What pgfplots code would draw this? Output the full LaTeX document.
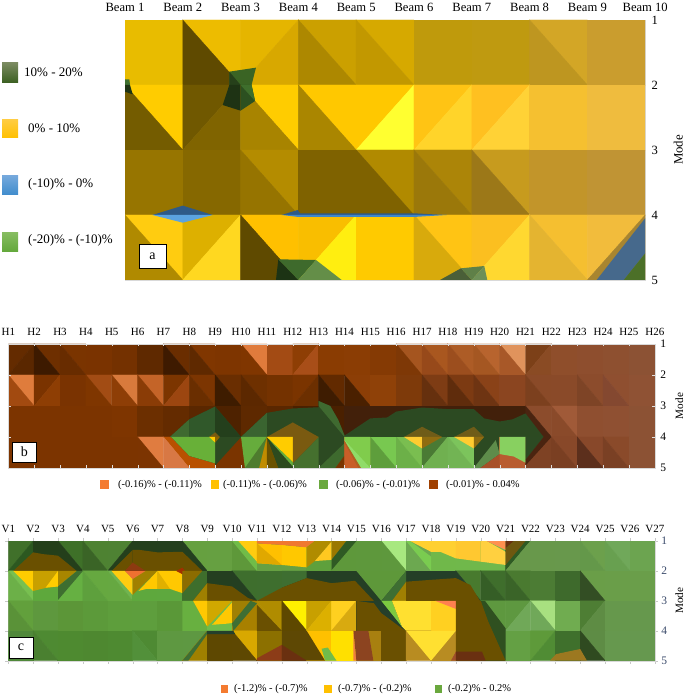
\documentclass[border=0pt]{standalone}
\usepackage{fontspec}
\setmainfont{Liberation Serif}
\usepackage{pgfplots}
\pgfplotsset{compat=1.18}
\newcommand\Cf[3]{\definecolor{c#3}{HTML}{#3}\edef\tmp{\noexpand\addplot[fill=c#3,draw=c#3,line width=.4pt,forget plot] coordinates {(#1,#2)(\the\numexpr#1+1\relax,#2)(\the\numexpr#1+1\relax,\the\numexpr#2+1\relax)(#1,\the\numexpr#2+1\relax)} --cycle;}\tmp}
% D: diagonal top-left to bottom-right; upper right colour, lower left colour
\newcommand\Cd[4]{\definecolor{c#3}{HTML}{#3}\definecolor{c#4}{HTML}{#4}\edef\tmp{\noexpand\addplot[fill=c#3,draw=c#3,line width=.4pt,forget plot] coordinates {(#1,#2)(\the\numexpr#1+1\relax,#2)(\the\numexpr#1+1\relax,\the\numexpr#2+1\relax)} --cycle;\noexpand\addplot[fill=c#4,draw=c#4,line width=.4pt,forget plot] coordinates {(#1,#2)(\the\numexpr#1+1\relax,\the\numexpr#2+1\relax)(#1,\the\numexpr#2+1\relax)} --cycle;}\tmp}
% U: diagonal bottom-left to top-right; upper left colour, lower right colour
\newcommand\Cu[4]{\definecolor{c#3}{HTML}{#3}\definecolor{c#4}{HTML}{#4}\edef\tmp{\noexpand\addplot[fill=c#3,draw=c#3,line width=.4pt,forget plot] coordinates {(#1,#2)(\the\numexpr#1+1\relax,#2)(#1,\the\numexpr#2+1\relax)} --cycle;\noexpand\addplot[fill=c#4,draw=c#4,line width=.4pt,forget plot] coordinates {(\the\numexpr#1+1\relax,#2)(\the\numexpr#1+1\relax,\the\numexpr#2+1\relax)(#1,\the\numexpr#2+1\relax)} --cycle;}\tmp}
\newcommand\Cp[2]{\definecolor{c#1}{HTML}{#1}\addplot[fill=c#1,draw=none,forget plot] coordinates {#2} --cycle;}
\definecolor{D9}{HTML}{D9D9D9}
\definecolor{E0}{HTML}{E0E0E0}
\definecolor{C8}{HTML}{C8C8C8}
\definecolor{navy}{HTML}{3A4A6A}
\pgfplotsset{surf/.style={scale only axis,anchor=south west,y dir=reverse,ymin=1,ymax=5,ytick={1,2,3,4,5},yticklabels={1,2,3,4,5},xtick={1,...,#1},xmin=1,xmax=#1,
 xticklabel pos=upper,yticklabel pos=right,axis line style={draw=D9},tick align=outside,major tick length=3pt,
 every axis y label/.style={at={(axis description cs:1,0.5)},anchor=center,rotate=90}}}
\begin{document}
\begin{tikzpicture}[x=1pt,y=1pt]
\useasboundingbox (0,0) rectangle (685,696);
% ---------- panel a
\begin{axis}[surf=10,at={(125pt,416pt)},width=520.2pt,height=260pt,
 xticklabels={Beam 1,Beam 2,Beam 3,Beam 4,Beam 5,Beam 6,Beam 7,Beam 8,Beam 9,Beam 10},
 tick style={draw=none},major tick length=0pt,
 xticklabel style={font=\fontsize{12.6}{14}\selectfont,yshift=5pt},yticklabel style={font=\fontsize{12.6}{14}\selectfont,xshift=3pt},
 ylabel={\fontsize{12.8}{14}\selectfont Mode},y label style={yshift=-33pt}]
\Cf{1}{1}{E8BC00}\Cd{2}{1}{EDBC00}{5F4A00}\Cu{3}{1}{E5B500}{D8A800}\Cd{4}{1}{CBA000}{AD8800}\Cd{5}{1}{D6A900}{C29800}\Cf{6}{1}{BF9A0C}\Cf{7}{1}{BF9A10}\Cd{8}{1}{D3A626}{BE9620}\Cf{9}{1}{CA9D2E}
\Cd{1}{2}{FFCC00}{745C00}\Cu{2}{2}{705800}{806400}\Cd{3}{2}{FFCC00}{A88400}\Cd{4}{2}{FFC800}{AA8600}\Cu{5}{2}{FFC800}{FFFF30}\Cu{6}{2}{FFC414}{FFD42A}\Cu{7}{2}{FFC020}{FFD236}\Cf{8}{2}{F5C030}\Cf{9}{2}{EFBC3E}
\Cf{1}{3}{977500}\Cf{2}{3}{866800}\Cd{3}{3}{B48C00}{967400}\Cf{4}{3}{7F6200}\Cd{5}{3}{B18A00}{7F6200}\Cd{6}{3}{AC8508}{9B780A}\Cd{7}{3}{C79B1E}{9C7818}\Cf{8}{3}{C2952A}\Cf{9}{3}{C09434}
\Cd{1}{4}{FFCC10}{B08A00}\Cu{2}{4}{DDB000}{FFD820}\Cd{3}{4}{FFC000}{5F4A00}\Cu{4}{4}{F9BE00}{FFEE10}\Cf{5}{4}{FFCA00}\Cd{6}{4}{FFC414}{D8AA0C}\Cu{7}{4}{FBBF20}{FFD830}\Cd{8}{4}{F5BF30}{E4B430}\Cu{9}{4}{F2BC3C}{A88530}
% green blob near Beam 3
\Cp{3A6424}{(2.805,1.795)(3.266,1.733)(3.19,2)(2.805,2)}
\Cp{26401A}{(2.805,1.795)(3,2)(2.805,2)}
\Cp{1E3314}{(2.805,2)(3,2)(3,2.395)(2.69,2.308)}
\Cp{2C5020}{(3,2)(3.19,2)(3.25,2.246)(3,2.395)}
\Cp{3E6E2C}{(3,2)(3.19,2)(3.25,2.246)}
\Cp{3F7030}{(1,1.913)(1.075,1.913)(1.087,2)(1,2)}
\Cp{1E3314}{(1,2)(1.087,2)(1.133,2.144)(1,2.103)}
% blue
\Cp{2E5A88}{(1.473,4)(2,3.856)(2.517,4)}
\Cp{5BA3E0}{(1.473,4)(2.517,4)(2,4.118)}
\Cp{2E5A88}{(3.711,4)(3.987,3.923)(4.03,3.974)(6,3.974)(6.566,4)(4,4)}
\Cp{3F86C8}{(3.711,4)(6.566,4)(6,4.03)(4,4.03)}
% bottom greens
\Cp{1C3314}{(3.653,4.682)(4,5)(3.612,5)}
\Cp{3E6A2C}{(3.653,4.682)(4.304,4.692)(4,5)}
\Cp{648E48}{(4.304,4.692)(4.749,5)(4,5)}
\Cp{4A5F38}{(6.45,5)(6.813,4.82)(7,5)}
\Cp{5F8048}{(6.813,4.82)(7.216,4.785)(7,5)}
\Cp{6E9058}{(7.216,4.785)(7.268,5)(7,5)}
\Cp{46698C}{(9.16,5)(10,4.05)(10,4.59)(9.63,5)}
\Cp{4C7028}{(9.63,5)(10,4.59)(10,5)}
\end{axis}
% ---------- panel b
\begin{axis}[surf=26,at={(8.3pt,228pt)},width=646.5pt,height=124pt,
 xticklabels={H1,H2,H3,H4,H5,H6,H7,H8,H9,H10,H11,H12,H13,H14,H15,H16,H17,H18,H19,H20,H21,H22,H23,H24,H25,H26},
 tick align=inside,major tick length=2.5pt,tick style={draw=E0},axis on top,
 xticklabel style={font=\fontsize{11}{13}\selectfont,yshift=5pt},yticklabel style={font=\fontsize{11.5}{13}\selectfont,xshift=2pt},
 ylabel={\fontsize{11.2}{13}\selectfont Mode},y label style={yshift=-24.5pt}]
\Cu{1}{1}{642B00}{5A2700}\Cd{2}{1}{6E2F00}{3D1A00}\Cd{3}{1}{7A3400}{682C00}\Cf{4}{1}{7A3300}\Cf{5}{1}{743100}\Cf{6}{1}{5F2900}\Cd{7}{1}{6A2D00}{3E1A00}\Cd{8}{1}{803600}{5F2900}\Cf{9}{1}{7E3500}\Cd{10}{1}{E07B3C}{803600}\Cf{11}{1}{A34B14}\Cu{12}{1}{8E3E04}{A84E18}\Cf{13}{1}{8A3C02}\Cf{14}{1}{8B3D04}\Cf{15}{1}{853A04}\Cd{16}{1}{A5551F}{7E3806}\Cd{17}{1}{A9571F}{97491A}\Cd{18}{1}{AD5C26}{9C4E1E}\Cd{19}{1}{B8642E}{A55722}\Cd{20}{1}{E0935C}{A85828}\Cu{21}{1}{7C4018}{8A4B24}\Cf{22}{1}{8F4E2B}\Cf{23}{1}{8E4E2E}\Cf{24}{1}{8E5030}\Cf{25}{1}{8C5234}
\Cd{1}{2}{DF7C3C}{A24A10}\Cu{2}{2}{7A3300}{8E3E04}\Cf{3}{2}{7A3301}\Cd{4}{2}{A24C14}{7F3600}\Cd{5}{2}{D87A3C}{8E3E06}\Cd{6}{2}{C46428}{8A3C06}\Cu{7}{2}{7C3500}{9C4610}\Cd{8}{2}{7C3501}{6A2E00}\Cd{9}{2}{6A2E01}{3E1C00}\Cd{10}{2}{6E3000}{5C2800}\Cf{11}{2}{743200}\Cu{12}{2}{7A3400}{6C2F00}\Cd{13}{2}{622A00}{3E1C01}\Cd{14}{2}{8C3E06}{4A2000}\Cf{15}{2}{8F4108}\Cf{16}{2}{7E3A0A}\Cd{17}{2}{7E3C14}{66300E}\Cd{18}{2}{7C3A12}{5F2C0C}\Cd{19}{2}{8A4218}{6E3412}\Cf{20}{2}{8B4520}\Cd{21}{2}{8A4A28}{7C401E}\Cf{22}{2}{8A4A29}\Cd{23}{2}{8C4C2C}{7E4426}\Cd{24}{2}{8F4F30}{844830}\Cf{25}{2}{8F5234}
\Cf{1}{3}{7C3400}\Cf{2}{3}{7C3400}\Cf{3}{3}{7C3400}\Cf{4}{3}{7C3400}\Cf{5}{3}{7E3500}\Cf{6}{3}{6C2F00}\Cf{7}{3}{642B00}\Cf{8}{3}{5A2700}\Cf{9}{3}{4E2200}\Cf{10}{3}{5E2900}\Cf{11}{3}{5A2700}\Cf{12}{3}{4A2000}\Cf{13}{3}{4A2000}\Cf{14}{3}{42200A}\Cf{15}{3}{42200A}\Cf{16}{3}{42200A}\Cf{17}{3}{42200A}\Cf{18}{3}{42200A}\Cf{19}{3}{42200A}\Cf{20}{3}{42200A}\Cd{21}{3}{8C4C2C}{4A2410}\Cd{22}{3}{A05A38}{8A4A2A}\Cf{23}{3}{8F4F30}\Cf{24}{3}{8F5032}\Cf{25}{3}{8C5234}
\Cf{1}{4}{7C3400}\Cf{2}{4}{7C3400}\Cf{3}{4}{7C3400}\Cf{4}{4}{7C3400}\Cf{5}{4}{7C3400}\Cd{6}{4}{E07C40}{7C3401}\Cd{7}{4}{B85000}{D87844}\Cf{8}{4}{B85000}\Cf{9}{4}{7A3400}\Cf{10}{4}{7A3400}\Cf{11}{4}{2C4A22}\Cf{12}{4}{2C4A22}\Cf{13}{4}{2C4A22}\Cf{14}{4}{B06020}\Cd{15}{4}{78C850}{5E9E3C}\Cd{16}{4}{7ABE50}{6CB048}\Cu{17}{4}{4A7A34}{70B050}\Cd{18}{4}{7CC45C}{72B454}\Cf{19}{4}{2C4A22}\Cf{20}{4}{B85C30}\Cf{21}{4}{7E4224}\Cd{22}{4}{884829}{7A3F22}\Cd{23}{4}{88482A}{5C2F1C}\Cd{24}{4}{8A4A2A}{7A4024}\Cf{25}{4}{8C5234}
% left green region
\Cp{2C4A22}{(7.25,4)(8,3.43)(9,3.02)(10,4)(9,4.92)(9,4.85)(8,4.61)(7.3,4)}
\Cp{3F6A30}{(7.25,4)(8,3.43)(8,4)}
\Cp{30582A}{(8,3.43)(9,3.02)(9,4)(8,4)}
\Cp{243F1C}{(9,3.02)(10,4)(9,4)}
\Cp{68B038}{(7.3,4)(9,4)(9,4.85)(8,4.61)}
\Cp{7A5A10}{(8.77,4)(9,3.85)(9.18,4)}
\Cp{FFCC00}{(8.77,4)(9,4)(9,4.18)}
\Cp{8C6400}{(9,4)(9.18,4)(9,4.18)}
% main band
\Cp{2C4A22}{(10,4)(11,3.22)(12,3.08)(13,3.04)(13,2.84)(13.45,3)(13.76,3.45)(14,3.95)(14.14,3.88)(15,3.4)(15.65,3.37)(16,3.18)(17,3.05)(18,3.1)(19,3.1)(19.4,3.4)(20,3.5)(20.5,3.43)(21,3.24)(21.7,4)(21,4.74)(21,4)}
\Cp{3A6430}{(10,4)(11,3.22)(11,4)}
\Cp{3F6A30}{(13,3)(13,2.84)(13.45,3)(13.76,3.45)(14,3.95)(14,4)}
\Cp{7A5A10}{(11,4)(12,3.53)(13,4)}
\Cp{6F5C18}{(16.3,4)(17,3.67)(17.78,4)}
\Cp{6F5C18}{(18.24,4)(19,3.67)(19.4,4)}
% row 4 details
\Cp{66AC3C}{(10,4)(11,4)(10.7,5)(10.15,5)}
\Cp{4E7C2E}{(10.15,5)(11,4)(10.7,5)}
\Cp{C08C00}{(10.7,5)(11,4)(11,5)}
\Cp{6A5200}{(11,4)(11.45,5)(11,5)}
\Cp{2C4A1E}{(11,4)(12,4.85)(12,5)(11.45,5)}
\Cp{66AC3C}{(11,4)(12,4.8)(12,4.95)}
\Cp{FFCC00}{(11,4)(12,4)(12,4.8)}
\Cp{45702E}{(12,4.85)(13,4)(13,5)(12,5)}
\Cp{7A5A10}{(12,4)(13,4)(12,4.85)}
\Cp{3E6A2E}{(13,5)(14,4.2)(14,5)}
\Cp{7A3400}{(13.65,5)(14,4.6)(14,5)}
\Cp{80CC4C}{(14,4)(15,4)(15,5)(14.65,5)(14,4.1)}
\Cp{90DC68}{(14,4.1)(15,5)(14.65,5)}
\Cp{C85E28}{(14,4.2)(14.53,5)(14,5)}
\Cp{FFCC30}{(16.3,4)(17,4)(17,4.37)}
\Cp{8F6C10}{(17,4)(17.78,4)(17,4.37)}
\Cp{FFCC30}{(18.24,4)(19,4)(19,4.37)}
\Cp{8F6C10}{(19,4)(19.4,4)(19,4.37)}
\Cp{5E8C4A}{(19,5)(19.85,4.1)(20,4.55)(19.25,5)}
\Cp{A85028}{(19.25,5)(20,4.55)(20,5)}
\Cp{88D060}{(20,4)(21,4)(21,4.83)(20.55,4.63)(20,4.55)}
\Cp{2C4A23}{(21,4)(21.7,4)(21,4.74)}
\Cp{4A2410}{(21,4.74)(21.7,4)(22,4)(21,4.92)}
\end{axis}
% ---------- panel c
\begin{axis}[surf=27,at={(8.3pt,35.3pt)},width=646.5pt,height=119.7pt,
 xticklabels={V1,V2,V3,V4,V5,V6,V7,V8,V9,V10,V11,V12,V13,V14,V15,V16,V17,V18,V19,V20,V21,V22,V23,V24,V25,V26,V27},
 tick style={draw=C8},xtick pos=both,
 xticklabel style={font=\fontsize{11}{13}\selectfont,yshift=2pt},yticklabel style={font=\fontsize{11.5}{13}\selectfont,text=navy},
 ylabel={\fontsize{11.2}{13}\selectfont Mode},y label style={yshift=-24.5pt}]
\Cu{1}{1}{40702A}{2C5820}\Cf{2}{1}{243F1A}\Cd{3}{1}{3E7028}{243F1B}\Cd{4}{1}{4E8232}{3A6426}\Cu{5}{1}{4E8233}{243F1C}\Cf{6}{1}{243F1D}\Cf{7}{1}{243F1E}\Cd{8}{1}{66A040}{243F1F}\Cf{9}{1}{66A041}\Cf{10}{1}{5E983A}\Cf{11}{1}{66A042}\Cf{12}{1}{66A043}\Cf{13}{1}{5EA03C}\Cf{14}{1}{5E983B}\Cf{15}{1}{5E983C}\Cd{16}{1}{A8E880}{5E983D}\Cf{17}{1}{6CA850}\Cf{18}{1}{70B84A}\Cf{19}{1}{70B84B}\Cf{20}{1}{70B84C}\Cu{21}{1}{2F5A24}{68984A}\Cf{22}{1}{68984B}\Cf{23}{1}{68984C}\Cd{24}{1}{6CA04C}{64984A}\Cd{25}{1}{70A85A}{68A050}\Cf{26}{1}{6CA450}
\Cd{1}{2}{78C050}{6CB048}\Cf{2}{2}{5EA83C}\Cf{3}{2}{66B042}\Cd{4}{2}{66A840}{5EA03D}\Cd{5}{2}{70B450}{66A841}\Cf{6}{2}{5EA83D}\Cf{7}{2}{5EA83E}\Cf{8}{2}{3E6E2C}\Cf{9}{2}{243F20}\Cd{10}{2}{3E6E2D}{243F21}\Cf{11}{2}{3E6E2E}\Cf{12}{2}{243F22}\Cf{13}{2}{243F23}\Cf{14}{2}{243F24}\Cf{15}{2}{243F25}\Cf{16}{2}{243F26}\Cf{17}{2}{243F27}\Cf{18}{2}{243F28}\Cd{19}{2}{487A2E}{243F29}\Cd{20}{2}{3F6E2C}{355E26}\Cd{21}{2}{4A7A30}{3A6428}\Cf{22}{2}{4C7C34}\Cf{23}{2}{3E6A2C}\Cd{24}{2}{6A9E48}{334E24}\Cf{25}{2}{6A9E49}\Cf{26}{2}{6A9E4A}
\Cd{1}{3}{62A03C}{5A9238}\Cf{2}{3}{5E983E}\Cf{3}{3}{5C9638}\Cf{4}{3}{5C9A3A}\Cf{5}{3}{5E9E3C}\Cf{6}{3}{5E9E3D}\Cf{7}{3}{5A9838}\Cf{8}{3}{5A9639}\Cf{9}{3}{70BC48}\Cf{10}{3}{A88000}\Cd{11}{3}{B08C00}{B08C01}\Cd{12}{3}{FFF000}{5E4800}\Cu{13}{3}{C8A000}{DCB000}\Cu{14}{3}{FFD020}{D8AA10}\Cf{15}{3}{243F2A}\Cf{16}{3}{243F2B}\Cf{17}{3}{FFE030}\Cf{18}{3}{FFD021}\Cf{19}{3}{6A5000}\Cd{20}{3}{5E983F}{2F5020}\Cu{21}{3}{5E9840}{70A858}\Cd{22}{3}{A8E080}{70A859}\Cf{23}{3}{70AC50}\Cu{24}{3}{4E7E34}{5E8C44}\Cf{25}{3}{66984C}\Cf{26}{3}{66984D}
\Cf{1}{4}{50883A}\Cd{2}{4}{4E8A32}{4A8030}\Cf{3}{4}{4E8A30}\Cf{4}{4}{4E8830}\Cf{5}{4}{4E8A31}\Cd{6}{4}{4E8A33}{52903A}\Cf{7}{4}{5E9841}\Cu{8}{4}{5E9842}{A08000}\Cf{9}{4}{5E4801}\Cd{10}{4}{D8A800}{5E4802}\Cf{11}{4}{8C7000}\Cf{12}{4}{5E4803}\Cf{13}{4}{FFC000}\Cf{14}{4}{FFE000}\Cf{15}{4}{A88010}\Cf{16}{4}{6A5001}\Cd{17}{4}{B88C20}{B88C21}\Cf{18}{4}{B88C22}\Cf{19}{4}{6A5002}\Cf{20}{4}{2F5021}\Cf{21}{4}{64A044}\Cu{22}{4}{5E9A3A}{508C34}\Cf{23}{4}{3F702C}\Cd{24}{4}{5E8C45}{2F4A20}\Cf{25}{4}{66984E}\Cf{26}{4}{66984F}
% row 1 overlays
\Cp{6A5000}{(1.2,2)(2,1.38)(2,2)}
\Cp{6A5000}{(2,1.38)(2.41,1.44)(3,1.49)(3.75,2)(2,2)}
\Cp{6A5000}{(5.16,2)(6,1.3)(6,2)}
\Cp{6A5000}{(6,1.3)(6.3,1.3)(7,1.38)(8,1.36)(8.8,2)(6,2)}
\Cp{70BC48}{(10,1)(10.32,1)(11,1.69)(11,2)}
\Cp{FFCC10}{(10.25,1)(11,1)(11,1.69)}
\Cp{FFC000}{(11,1.08)(12,1.13)(12,1.8)(11,1.74)}
\Cp{E0A800}{(11,1.08)(12,1.8)(11,1.74)}
\Cp{FFC800}{(12,1.13)(13,1.21)(13,1.88)(12,1.8)}
\Cp{F07830}{(11,1)(13.33,1)(13,1.21)(12,1.13)(11,1.08)}
\Cp{B08C00}{(13,1.21)(13.33,1)(14,1)(14,1.02)(13.33,1.67)(13,1.88)}
\Cp{FFC820}{(13.33,1.67)(14,1.02)(14,1.63)}
\Cp{9A7800}{(14,1)(14.6,1)(14,1.63)}
\Cp{2F5A24}{(14.6,1)(15,1)(14,1.97)(14,1.63)}
\Cp{7ACC50}{(17,1)(17.16,1)(18,1.52)(18,2)}
\Cp{FFD030}{(17.16,1)(18,1)(18,1.36)}
\Cp{FFD031}{(18,1)(19,1)(19,1.58)(18.37,1.36)(18,1.36)}
\Cp{FFC830}{(19,1)(20,1)(20,1.69)(19,1.58)}
\Cp{FFD040}{(20,1)(20.24,1)(21,1.36)(21,1.8)(20,1.69)}
\Cp{FF9050}{(20.24,1)(21,1)(21,1.3)}
\Cp{6A3010}{(21,1)(21.33,1)(21,1.24)}
\Cp{6E5810}{(21.33,1)(21.8,1)(21,1.8)(21,1.24)}
% row 2 overlays
\Cp{FFCC00}{(1.2,2)(2,2)(2,2.67)}
\Cp{C8A000}{(2,2)(3,2)(3,2.52)(2.54,2.56)(2,2.67)}
\Cp{FFCC01}{(3,2)(3,2.52)(2.5,2.56)}
\Cp{A88600}{(3,2)(3.76,2)(3,2.52)}
\Cp{3E6E30}{(3.76,2)(4,2)(3,2.97)(3,2.52)}
\Cp{FFCC10}{(5.15,2)(5.69,2)(6,2.27)(6,2.8)}
\Cp{A08000}{(6,2.27)(6.52,2)(7,2)(6,2.8)}
\Cp{FFC800}{(6.23,2.67)(7,2)(7,2.6)(6.56,2.6)}
\Cp{F07030}{(5.69,2)(6,2.27)(6.52,2)}
\Cp{8C3A10}{(5.69,2)(6,1.72)(6.52,2)}
\Cp{FFC801}{(7,2)(8,2)(8,2.74)(7.5,2.6)(7,2.6)}
\Cp{E0B000}{(7,2)(7.5,2.6)(7,2.6)}
\Cp{A03000}{(7.75,2)(8,1.89)(8.1,2)(8,2.11)}
\Cp{8C6C00}{(8,2)(8.8,2)(8,2.74)}
\Cp{6A5000}{(8.43,3)(9,2.41)(10,2.52)(10.65,2.91)(11,3)}
\Cp{A08001}{(8.43,3)(9,2.41)(9,3)}
\Cp{3E6E31}{(12,2)(13,2)(13,2.24)(12,2.56)}
\Cp{6A5000}{(11,3)(12,2.56)(13,2.24)(14,2.41)(14.94,2.33)(15.7,3)}
\Cp{5E983A}{(15,2)(17,2)(16,3)}
\Cp{3E6E32}{(17,2)(17,2.36)(16.43,3)(16,3)}
\Cp{A08002}{(16.43,3)(17,2.36)(17,3)}
\Cp{6A5000}{(17,2.36)(17.97,2.3)(19,2.24)(19.58,2.47)(19.97,3)(17,3)}
% row 3 overlays
\Cp{6A5000}{(15,3)(15.7,3.08)(16,3.41)(16.83,3.92)(17,4)(15,4)}
\Cp{7CC840}{(16,3)(16.43,3)(16.83,3.86)}
\Cp{FFE030}{(16.43,3)(17,3)(17,4)(16.83,3.86)}
\Cp{FF8050}{(18.17,3)(19,3)(19,3.27)}
\Cp{68B040}{(8,3)(8.43,3)(9,3.86)(9,4)(8,4)}
\Cp{D0A800}{(9,3)(10,3)(9,3.86)}
\Cp{FFC802}{(8.43,3)(9,3)(9,3.86)}
\Cp{FFC803}{(9.2,3.8)(10,3.05)(10,3.75)}
\Cp{70BC49}{(9,3.86)(10,3.75)(10,4)(9,4)}
\Cp{A08003}{(10,3)(10.74,3)(10,3.75)}
\Cp{3E6E33}{(10.74,3)(11,3.08)(10.05,4)(10,3.75)}
\Cp{6A5001}{(11,3.13)(12,4)(11,4)}
\Cp{2F5020}{(20,3)(20.17,3)(21,3.92)(21,5)(20.3,3.69)}
\Cp{6A5000}{(20,3)(20.3,3.69)(21,5)(19,5)(19,3)}
% row 4 overlays
\Cp{3E6E34}{(8,5)(9,4)(9,4.11)(8.24,5)}
\Cp{243F2C}{(9,4)(10.05,4)(10.12,4.11)(9,4.11)}
\Cp{8C3C18}{(11,4.92)(12,4.47)(12,5)(11,5)}
\Cp{5E4804}{(12,4)(13,4)(13.74,5)(12,5)}
\Cp{6A3010}{(12,4.47)(13,5)(12,5)}
\Cp{70BC4A}{(13.6,4.6)(13.85,4.56)(14.2,5)(13.74,5)}
\Cp{F08040}{(14.88,4)(15,5)(14.88,5)}
\Cp{8C4420}{(14.88,4)(15.48,4)(15.68,5)(15,5)}
\Cp{FFE031}{(17,4)(19,4)(18,5)}
\Cp{A0502A}{(18.8,5)(19,4.7)(19,5)}
\Cp{6A3011}{(19,4.7)(20.05,4.7)(20.2,5)(19,5)}
\Cp{9C7820}{(22.78,5)(23.03,4.78)(24,4.61)(24.27,5)}
\end{axis}
% ---------- legends
\definecolor{lo}{HTML}{F47B30}\definecolor{lg}{HTML}{FFC000}\definecolor{lv}{HTML}{6AA83E}\definecolor{lb}{HTML}{A04000}
\definecolor{s1}{HTML}{7A8A60}\definecolor{s2}{HTML}{3A5F20}\definecolor{s3}{HTML}{FFCC40}\definecolor{s4}{HTML}{FFC000}\definecolor{s5}{HTML}{74A8DC}\definecolor{s6}{HTML}{3F8CCC}\definecolor{s7}{HTML}{86BC60}\definecolor{s8}{HTML}{62A83A}
\shade[top color=s1,bottom color=s2] (2,613) rectangle (18,633);
\shade[top color=s3,bottom color=s4] (2,558) rectangle (18,576);
\shade[top color=s5,bottom color=s6] (2,501) rectangle (18,520);
\shade[top color=s7,bottom color=s8] (2,444) rectangle (18,463);
\node[anchor=west,inner sep=0,font=\fontsize{13}{15}\selectfont] at (24,623.5) {10\% - 20\%};
\node[anchor=west,inner sep=0,font=\fontsize{13}{15}\selectfont] at (28,567.5) {0\% - 10\%};
\node[anchor=west,inner sep=0,font=\fontsize{13}{15}\selectfont] at (28,511.5) {(-10)\% - 0\%};
\node[anchor=west,inner sep=0,font=\fontsize{13}{15}\selectfont] at (28,455.5) {(-20)\% - (-10)\%};
\draw[fill=white,line width=.7pt] (139,428) rectangle (166,452);
\node[font=\fontsize{14}{16}\selectfont] at (152.5,440) {a};
\draw[fill=white,line width=.7pt] (12.7,234) rectangle (36,254);
\node[font=\fontsize{14}{16}\selectfont] at (24.3,244) {b};
\draw[fill=white,line width=.7pt] (9,38) rectangle (33,59);
\node[font=\fontsize{14}{16}\selectfont] at (21,48.5) {c};
\fill[lo] (100,207) rectangle (109,215.5);
\fill[lg] (211,207) rectangle (218.5,215.5);
\fill[lv] (319,207) rectangle (328,215.5);
\fill[lb] (429,207) rectangle (438,215.5);
\node[anchor=west,inner sep=0,font=\fontsize{10.5}{12}\selectfont] at (118,211.3) {(-0.16)\% - (-0.11)\%};
\node[anchor=west,inner sep=0,font=\fontsize{10.5}{12}\selectfont] at (223,211.3) {(-0.11)\% - (-0.06)\%};
\node[anchor=west,inner sep=0,font=\fontsize{10.5}{12}\selectfont] at (336,211.3) {(-0.06)\% - (-0.01)\%};
\node[anchor=west,inner sep=0,font=\fontsize{10.5}{12}\selectfont] at (446,211.3) {(-0.01)\% - 0.04\%};
\fill[lo] (220.7,3) rectangle (228,11);
\fill[lg] (324,3) rectangle (332,11);
\fill[lv] (435,3) rectangle (442,11);
\node[anchor=west,inner sep=0,font=\fontsize{10.5}{12}\selectfont] at (234,7.3) {(-1.2)\% - (-0.7)\%};
\node[anchor=west,inner sep=0,font=\fontsize{10.5}{12}\selectfont] at (338,7.3) {(-0.7)\% - (-0.2)\%};
\node[anchor=west,inner sep=0,font=\fontsize{10.5}{12}\selectfont] at (448,7.3) {(-0.2)\% - 0.2\%};
\end{tikzpicture}
\end{document}
